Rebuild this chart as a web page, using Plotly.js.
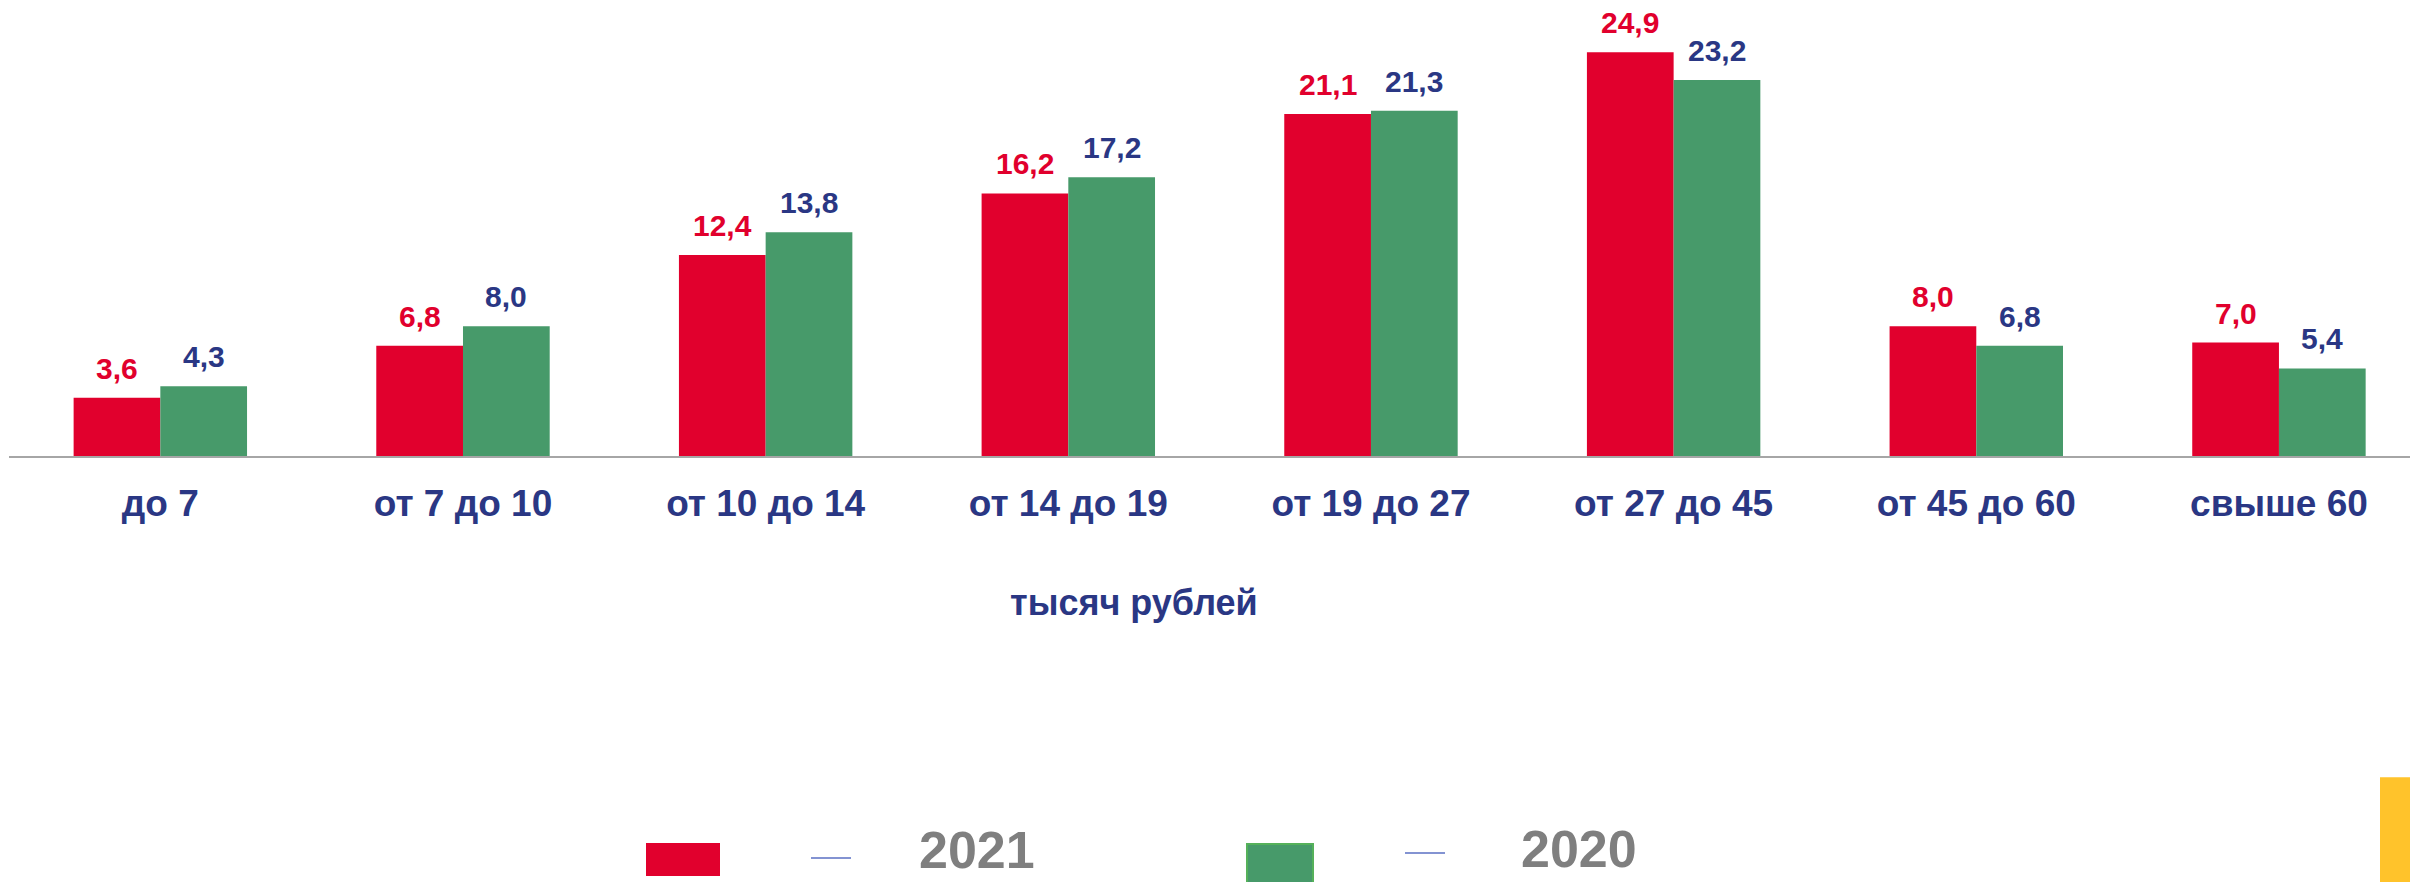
<!DOCTYPE html>
<html>
<head>
<meta charset="utf-8">
<script src="https://cdn.plot.ly/plotly-3.0.1.min.js"></script>
<style>html,body{margin:0;padding:0;background:#fff;}#chart{width:2410px;height:882px;}</style>
</head>
<body>
<div id="chart"></div>
<script>
const categories = ['до 7','от 7 до 10','от 10 до 14','от 14 до 19','от 19 до 27','от 27 до 45','от 45 до 60','свыше 60'];
const values2021 = [3.6, 6.8, 12.4, 16.2, 21.1, 24.9, 8.0, 7.0];
const values2020 = [4.3, 8.0, 13.8, 17.2, 21.3, 23.2, 6.8, 5.4];
const seriesNames = ['2021', '2020'];
const axisTitle = 'тысяч рублей';

const W = 2410, H = 882;
const M = {l: 9, r: 0, t: 0, b: 425.5};
const plotW = W - M.l - M.r, plotH = H - M.t - M.b;
const px = x => (x - M.l) / plotW;
const py = y => (H - M.b - y) / plotH;

const RED = '#E1002D', GREEN = '#479A6A', NAVY = '#2A3784', GRAY = '#7F7F7F';
const FONT = 'Liberation Sans, Arial, sans-serif';
const fmt = v => v.toFixed(1).replace('.', ',');

const traces = [
  {type: 'bar', name: seriesNames[0], x: categories, y: values2021, marker: {color: RED}, hoverinfo: 'none'},
  {type: 'bar', name: seriesNames[1], x: categories, y: values2020, marker: {color: GREEN}, hoverinfo: 'none'}
];

const annotations = [];
const off = 43.4;
categories.forEach((c, i) => {
  annotations.push({x: c, y: values2021[i], xref: 'x', yref: 'y', text: fmt(values2021[i]), showarrow: false,
    xshift: -off, yshift: 11, yanchor: 'bottom', font: {family: FONT, size: 30, color: RED, weight: 'bold'}});
  annotations.push({x: c, y: values2020[i], xref: 'x', yref: 'y', text: fmt(values2020[i]), showarrow: false,
    xshift: off, yshift: 11, yanchor: 'bottom', font: {family: FONT, size: 30, color: NAVY, weight: 'bold'}});
});
annotations.push({x: px(1134), y: py(603.5), xref: 'paper', yref: 'paper', text: axisTitle, showarrow: false,
  xanchor: 'center', yanchor: 'middle', font: {family: FONT, size: 36, color: NAVY, weight: 'bold'}});
annotations.push({x: px(917), y: 0, yshift: -M.b + 1, xref: 'paper', yref: 'paper', text: seriesNames[0], showarrow: false,
  xanchor: 'left', yanchor: 'bottom', font: {family: FONT, size: 52, color: GRAY, weight: 'bold'}});
annotations.push({x: px(1519), y: 0, yshift: -M.b + 2, xref: 'paper', yref: 'paper', text: seriesNames[1], showarrow: false,
  xanchor: 'left', yanchor: 'bottom', font: {family: FONT, size: 52, color: GRAY, weight: 'bold'}});

const shapes = [
  {type: 'rect', xref: 'paper', yref: 'paper', x0: px(646), x1: px(720), y0: py(844), y1: py(877), fillcolor: RED, line: {width: 0}},
  {type: 'line', xref: 'paper', yref: 'paper', x0: px(811), x1: px(851), y0: py(859), y1: py(859), line: {color: '#8393D2', width: 2}},
  {type: 'rect', xref: 'paper', yref: 'paper', x0: px(1247), x1: px(1313), y0: py(845), y1: py(884), fillcolor: GREEN, line: {color: '#55B15A', width: 2}},
  {type: 'line', xref: 'paper', yref: 'paper', x0: px(1405), x1: px(1445), y0: py(854), y1: py(854), line: {color: '#8393D2', width: 2}},
  {type: 'rect', xref: 'paper', yref: 'paper', x0: px(2380), x1: px(2412), y0: py(778), y1: py(884), fillcolor: '#FFC32B', line: {width: 0}}
];

const layout = {
  width: W, height: H,
  margin: M,
  paper_bgcolor: '#fff', plot_bgcolor: '#fff',
  showlegend: false,
  barmode: 'group', bargap: 0.427, bargroupgap: 0,
  xaxis: {type: 'category', range: [-0.5, 7.433], showgrid: false, zeroline: false,
    showline: true, linecolor: '#A6A6A6', linewidth: 2, ticks: '', ticklabelstandoff: 14,
    tickfont: {family: FONT, size: 37, color: NAVY, weight: 'bold'}},
  yaxis: {range: [0, 28.13], visible: false, showgrid: false, zeroline: false},
  annotations, shapes
};

Plotly.newPlot('chart', traces, layout, {staticPlot: true, displayModeBar: false});
</script>
</body>
</html>
